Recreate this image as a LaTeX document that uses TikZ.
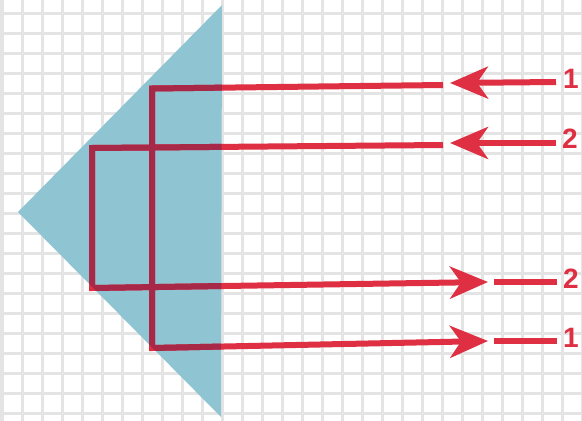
\documentclass[tikz,border=0pt]{standalone}
\usepackage{fontspec}
\setmainfont{Liberation Sans}
\usetikzlibrary{arrows.meta}
\definecolor{gridc}{RGB}{228,228,228}
\definecolor{prism}{RGB}{143,196,211}
\definecolor{ray}{RGB}{222,48,66}
\definecolor{raydark}{RGB}{168,40,72}
\tikzset{
  rayline/.style={draw=ray, line width=6pt, line join=miter},
  raytip/.style={-{Stealth[length=38pt,width=32pt,inset=11pt]}},
  lbl/.style={text=ray, font=\bfseries\fontsize{28}{28}\selectfont, inner sep=0pt}
}
\begin{document}
\begin{tikzpicture}[x=1pt,y=-1pt]
\useasboundingbox (0,0) rectangle (582,421);
\fill[white] (0,0) rectangle (582,421);
% grid
\foreach \gx in {2,22,...,582} \draw[gridc, line width=3pt] (\gx,0) -- (\gx,421);
\foreach \gy in {13,33,...,413} \draw[gridc, line width=3pt] (0,\gy) -- (582,\gy);
% prism
\coordinate (top) at (222,5);
\coordinate (bot) at (221,417);
\coordinate (lft) at (18,212);
\fill[prism] (top) -- (lft) -- (bot) -- cycle;
% ray 1 coordinates
\coordinate (a1) at (443,85);
\coordinate (c1) at (152,88.5);
\coordinate (d1) at (152,348);
\coordinate (e1) at (488,341);
\coordinate (s1) at (556,82);
\coordinate (t1) at (450,83);
\coordinate (f1) at (494,341);
\coordinate (g1) at (557,341);
% ray 2 coordinates
\coordinate (a2) at (443,145);
\coordinate (c2) at (92,148);
\coordinate (d2) at (92,288);
\coordinate (e2) at (488,282);
\coordinate (s2) at (556,143);
\coordinate (t2) at (450,143);
\coordinate (f2) at (494,282);
\coordinate (g2) at (557,282);
% rays
\draw[rayline, raytip] (s1) -- (t1);
\draw[rayline, raytip] (s2) -- (t2);
\draw[rayline, raytip] (a1) -- (c1) -- (d1) -- (e1);
\draw[rayline, raytip] (a2) -- (c2) -- (d2) -- (e2);
\draw[rayline] (f1) -- (g1);
\draw[rayline] (f2) -- (g2);
% darker inside prism
\begin{scope}
\clip (top) -- (lft) -- (bot) -- cycle;
\draw[rayline, draw=raydark] (a1) -- (c1) -- (d1) -- (e1);
\draw[rayline, draw=raydark] (a2) -- (c2) -- (d2) -- (e2);
\end{scope}
% labels
\node[lbl] (l1in) at (571,79) {1};
\node[lbl] (l2in) at (570,139) {2};
\node[lbl] (l2out) at (571,279) {2};
\node[lbl] (l1out) at (571,338) {1};
\end{tikzpicture}
\end{document}
